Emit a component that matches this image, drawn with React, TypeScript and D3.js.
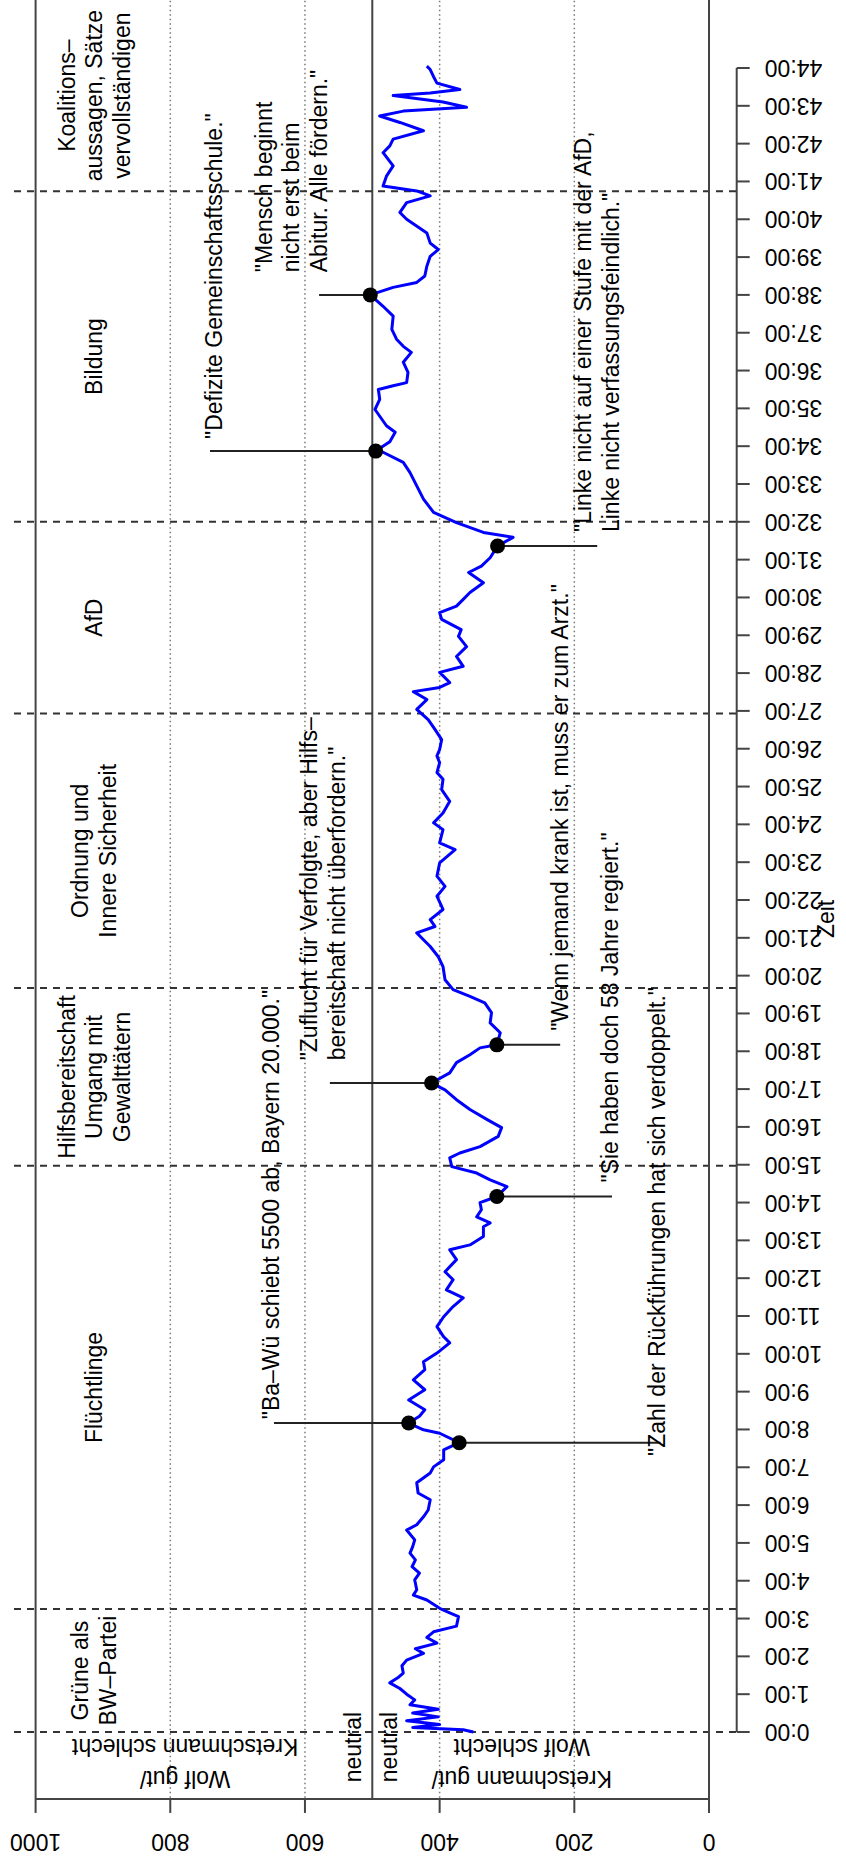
import React from "react";
import * as d3 from "d3";

const curveTime = [
  0.0, 0.06, 0.12, 0.2, 0.3, 0.4, 0.5, 0.6, 0.72, 0.85, 1.0, 1.15, 1.3, 1.45, 1.56, 1.75, 1.9, 2.08, 2.2, 2.35, 2.5, 2.65, 2.8, 3.05, 3.15, 3.27, 3.49, 3.62, 3.76, 4.02, 4.2, 4.37, 4.55, 4.73, 4.9, 5.08, 5.34, 5.48, 5.69, 5.87,
  6.14, 6.32, 6.59, 6.85, 7.01, 7.2, 7.46, 7.65, 7.9, 7.99, 8.17, 8.35, 8.52, 8.78, 9.05, 9.31, 9.58, 9.79, 10.02, 10.29, 10.45, 10.72, 10.98, 11.25, 11.48, 11.69, 11.96, 12.17, 12.49, 12.75, 12.88, 13.1, 13.36, 13.46, 13.62, 13.81,
  14.0, 14.16, 14.42, 14.6, 14.78, 14.95, 15.18, 15.31, 15.48, 15.75, 15.98, 16.2, 16.46, 16.72, 16.98, 17.16, 17.43, 17.7, 17.91, 18.09, 18.17, 18.49, 18.75, 19.02, 19.28, 19.45, 19.63, 19.89,
  20.24, 20.5, 20.77, 20.95, 21.13, 21.3, 21.48, 21.75, 22.1, 22.36, 22.63, 22.98, 23.33, 23.51, 23.86, 24.04, 24.3, 24.61, 24.92, 25.19, 25.37, 25.63, 25.81, 25.98, 26.24, 26.51, 26.77,
  27.04, 27.3, 27.51, 27.62, 27.75, 28.02, 28.18, 28.44, 28.7, 28.97, 29.15, 29.42, 29.6, 29.77, 29.95, 30.13, 30.39, 30.66, 30.83, 31.05, 31.36, 31.59, 31.72, 31.98,
  32.25, 32.6, 32.95, 33.3, 33.57, 33.84, 33.87, 34.12, 34.37, 34.54, 34.97, 35.24, 35.5, 35.6, 35.68, 35.95, 36.22, 36.48, 36.64, 36.83, 37.09, 37.44, 37.7, 38.0, 38.2, 38.33, 38.5, 38.76, 39.02, 39.2, 39.37, 39.64,
  40.0, 40.18, 40.44, 40.62, 40.75, 40.88, 41.14, 41.41, 41.76, 41.94, 42.12, 42.34, 42.56, 42.73, 42.86, 42.96, 43.1, 43.27, 43.34, 43.43, 43.6, 43.77, 43.96, 44.05,
];

const curveValue = [
  350, 365, 440, 400, 449, 402, 440, 402, 444, 437, 449, 459, 474, 461, 454, 456, 449, 424, 436, 404, 419, 409, 375, 372, 385, 400, 419, 439, 434, 437, 430, 441, 436, 444, 440, 437, 449, 434, 424, 417,
  414, 432, 434, 414, 409, 394, 394, 371, 400, 424, 446, 430, 422, 446, 422, 439, 422, 424, 404, 385, 394, 404, 394, 380, 365, 390, 380, 392, 375, 385, 355, 335, 335, 325, 345, 338,
  340, 315, 300, 325, 345, 382, 385, 370, 340, 313, 308, 330, 355, 375, 392, 412, 385, 375, 355, 340, 315, 310, 325, 323, 333, 355, 380, 392,
  395, 402, 414, 424, 434, 407, 414, 395, 404, 392, 404, 400, 377, 400, 395, 409, 395, 385, 397, 395, 404, 400, 404, 400, 397, 407, 417,
  434, 419, 439, 400, 385, 400, 365, 375, 360, 372, 368, 397, 400, 375, 365, 355, 335, 357, 338, 325, 314, 291, 335, 375,
  409, 424, 434, 444, 454, 484, 495, 474, 466, 479, 496, 489, 491, 469, 449, 447, 454, 442, 454, 464, 471, 469, 484, 503, 469, 434, 422, 419, 414, 402, 414, 419,
  449, 459, 449, 414, 434, 484, 479, 469, 484, 474, 469, 424, 459, 489, 454, 360, 395, 469, 414, 370, 404, 409, 414, 419,
];

const valueTicks = [0, 200, 400, 600, 800, 1000];
const gridValues = [200, 400, 600, 800];
const neutralValue = 500;
const timeTicks = d3.range(0, 45);

const sectionBreaks = [0, 3.25, 14.97, 19.67, 26.93, 32.0, 40.74];
const sectionEnds = [3.25, 14.97, 19.67, 26.93, 32.0, 40.74, 45.8];
const sectionLabels = [
  ["Grüne als", "BW–Partei"],
  ["Flüchtlinge"],
  ["Hilfsbereitschaft", "Umgang mit", "Gewalttätern"],
  ["Ordnung und", "Innere Sicherheit"],
  ["AfD"],
  ["Bildung"],
  ["Koalitions–", "aussagen, Sätze", "vervollständigen"],
];
const sectionLabelValue = 913;

const quoteTime = [7.65, 8.17, 14.16, 17.16, 18.17, 31.36, 33.87, 38.0];
const quoteValue = [371, 446, 315, 412, 315, 314, 495, 503];
const quoteLineEnd = [72, 646, 144, 563, 221, 166, 741, 579];
const quoteTextValue = [77, 650, 147, 594, 221, 187, 735, 661];
const quoteTextShift = [-0.35, 0.1, 0.37, 0.6, 0.37, 0.37, 0.32, 0.6];
const quoteText = [
  ["\"Zahl der Rückführungen hat sich verdoppelt.\""],
  ["\"Ba–Wü schiebt 5500 ab, Bayern 20.000.\""],
  ["\"Sie haben doch 58 Jahre regiert.\""],
  ["\"Zuflucht für Verfolgte, aber Hilfs–", "bereitschaft nicht überfordern.\""],
  ["\"Wenn jemand krank ist, muss er zum Arzt.\""],
  ["\"Linke nicht auf einer Stufe mit der AfD,", "Linke nicht verfassungsfeindlich.\""],
  ["\"Defizite Gemeinschaftsschule.\""],
  ["\"Mensch beginnt", "nicht erst beim", "Abitur. Alle fördern.\""],
];

const cornerLabels = [
  ["Wolf gut/", "Kretschmann schlecht"],
  ["Kretschmann gut/", "Wolf schlecht"],
];
const cornerValue = [778, 278];
const neutralLabelValue = [529, 475];
const axisTitle = "Zeit";

const FONT = "'Liberation Sans', Arial, Helvetica, sans-serif";
const FS = 23;
const LH = 27.6;

export default function App() {
  const W = 846;
  const H = 1866;
  const x = d3.scaleLinear().domain([0, 1000]).range([709, 35.6]);
  const y = d3.scaleLinear().domain([0, 44]).range([1732, 68]);
  const plotBottom = y(-1.77);
  const plotTop = y(45.9);
  const timeAxisX = 736.7;

  const line = d3
    .line<number>()
    .x((_, i) => x(curveValue[i]))
    .y((t) => y(t))
    .curve(d3.curveLinear);

  const boxStroke = "#444";

  return (
    <svg
      width={W}
      height={H}
      style={{ position: "absolute", left: 0, top: 0, background: "#fff" }}
      fontFamily={FONT}
      fontSize={FS}
    >
      <rect x={0} y={0} width={W} height={H} fill="#fff" />
      {gridValues.map((v) => (
        <line
          key={"g" + v}
          x1={x(v)}
          x2={x(v)}
          y1={plotTop}
          y2={plotBottom}
          stroke="#777"
          strokeWidth={1.5}
          strokeDasharray="1.5 3"
        />
      ))}
      <line x1={x(neutralValue)} x2={x(neutralValue)} y1={plotTop} y2={plotBottom} stroke={boxStroke} strokeWidth={2} />
      {sectionBreaks.map((t) => (
        <line
          key={"s" + t}
          x1={14}
          x2={timeAxisX}
          y1={y(t)}
          y2={y(t)}
          stroke="#333"
          strokeWidth={2}
          strokeDasharray="7 6"
        />
      ))}
      <line x1={x(1000)} x2={x(1000)} y1={plotTop} y2={plotBottom} stroke={boxStroke} strokeWidth={2} />
      <line x1={x(0)} x2={x(0)} y1={plotTop} y2={plotBottom} stroke={boxStroke} strokeWidth={2} />
      <line x1={x(1000)} x2={x(0)} y1={plotBottom} y2={plotBottom} stroke={boxStroke} strokeWidth={2} />
      {valueTicks.map((v) => (
        <g key={"v" + v}>
          <line x1={x(v)} x2={x(v)} y1={plotBottom} y2={plotBottom + 14} stroke={boxStroke} strokeWidth={2} />
          <text
            transform={`translate(${x(v)},${plotBottom + 43}) rotate(180)`}
            textAnchor="middle"
            dominantBaseline="central"
          >
            {v}
          </text>
        </g>
      ))}
      <line x1={timeAxisX} x2={timeAxisX} y1={y(0)} y2={y(44)} stroke={boxStroke} strokeWidth={2} />
      {timeTicks.map((t) => (
        <g key={"t" + t}>
          <line x1={timeAxisX} x2={timeAxisX + 13} y1={y(t)} y2={y(t)} stroke={boxStroke} strokeWidth={2} />
          <text
            transform={`translate(${timeAxisX + 28},${y(t)}) rotate(180)`}
            textAnchor="end"
            dominantBaseline="central"
          >
            {`${t}:00`}
          </text>
        </g>
      ))}
      <text
        transform={`translate(826,${y(21.5)}) rotate(-90)`}
        textAnchor="middle"
        dominantBaseline="central"
      >
        {axisTitle}
      </text>
      {sectionLabels.map((lines, i) => {
        const cy = y((sectionBreaks[i] + sectionEnds[i]) / 2);
        const cx = x(sectionLabelValue);
        return lines.map((s, j) => (
          <text
            key={"sl" + i + "_" + j}
            transform={`translate(${cx + (j - (lines.length - 1) / 2) * LH},${cy}) rotate(-90)`}
            textAnchor="middle"
            dominantBaseline="central"
          >
            {s}
          </text>
        ));
      })}
      {cornerLabels.map((lines, i) => {
        const cy = y(-0.82);
        const cx = x(cornerValue[i]);
        return lines.map((s, j) => (
          <text
            key={"cl" + i + "_" + j}
            transform={`translate(${cx},${cy + (0.5 - j) * 32}) rotate(180)`}
            textAnchor="middle"
            dominantBaseline="central"
          >
            {s}
          </text>
        ));
      })}
      {neutralLabelValue.map((v, i) => (
        <text
          key={"n" + i}
          transform={`translate(${x(v)},${y(-0.4)}) rotate(-90)`}
          textAnchor="middle"
          dominantBaseline="central"
        >
          neutral
        </text>
      ))}
      <path
        d={line(curveTime) || ""}
        fill="none"
        stroke="#0000ff"
        strokeWidth={3}
        strokeLinejoin="round"
      />
      {quoteTime.map((t, i) => {
        const yy = y(t);
        const lines = quoteText[i];
        const start = y(t + quoteTextShift[i]);
        return (
          <g key={"q" + i}>
            <line x1={x(quoteValue[i])} x2={x(quoteLineEnd[i])} y1={yy} y2={yy} stroke="#222" strokeWidth={2} />
            <circle cx={x(quoteValue[i])} cy={yy} r={7.5} fill="#000" />
            {lines.map((s, j) => (
              <text
                key={j}
                transform={`translate(${x(quoteTextValue[i]) + j * LH},${start}) rotate(-90)`}
                textAnchor="start"
                dominantBaseline="central"
              >
                {s}
              </text>
            ))}
          </g>
        );
      })}
    </svg>
  );
}
